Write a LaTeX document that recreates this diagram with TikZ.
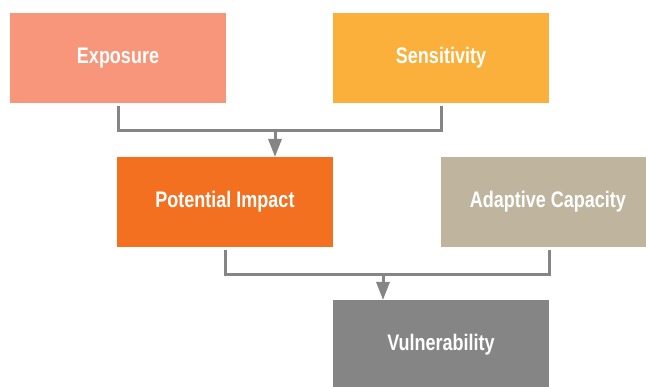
\documentclass[tikz,border=0pt]{standalone}
\usepackage{fontspec}
\setmainfont{Liberation Sans}[FakeStretch=0.8]
\usetikzlibrary{arrows.meta}
\definecolor{cexp}{HTML}{F7967A}
\definecolor{csen}{HTML}{FBB03B}
\definecolor{cpot}{HTML}{F37021}
\definecolor{cada}{HTML}{BFB59E}
\definecolor{cvul}{HTML}{858585}
\definecolor{cline}{HTML}{858585}
\begin{document}
\begin{tikzpicture}[x=1pt,y=-1pt,
  box/.style={draw=none,minimum width=216pt,minimum height=90pt,inner sep=0pt},
  lbl/.style={text=white,font=\bfseries\fontsize{22.5}{26}\selectfont},
  conn/.style={draw=cline,line width=3pt},
  arr/.style={draw=cline,line width=3pt,-{Triangle[length=18pt,width=13pt]}}]
\useasboundingbox (0,0) rectangle (646,387);
\node[box,fill=cexp,anchor=north west] (exp) at (10,13) {};
\node[box,fill=csen,anchor=north west] (sen) at (333,13) {};
\node[box,fill=cpot,anchor=north west] (pot) at (117,157) {};
\node[box,fill=cada,anchor=north west] (ada) at (441,157) {};
\node[box,fill=cvul,anchor=north west,minimum height=87pt] (vul) at (333,300) {};
\node[lbl] (expt) at (118,58) {Exposure};
\node[lbl] (sent) at (441,58) {Sensitivity};
\node[lbl] (pott) at (225,202) {Potential Impact};
\node[lbl] (adat) at (548,202) {Adaptive Capacity};
\node[lbl] (vult) at (441,345) {Vulnerability};
\coordinate (j1) at (275,131);
\coordinate (j2) at (383,275);
\draw[conn] ([yshift=-3pt]exp.south) |- (j1) -| ([yshift=-3pt]sen.south);
\draw[arr] (j1) -- (j1 |- pot.north);
\draw[conn] ([yshift=-3pt]pot.south) |- (j2) -| ([yshift=-3pt]ada.south);
\draw[arr] (j2) -- (j2 |- vul.north);
\end{tikzpicture}
\end{document}
